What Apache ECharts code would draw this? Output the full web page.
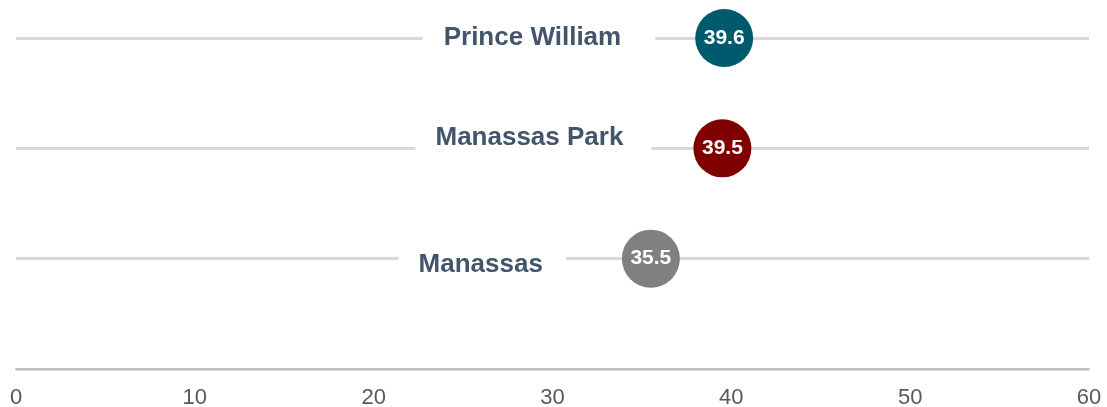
<!DOCTYPE html>
<html>
<head>
<meta charset="utf-8">
<script src="https://cdn.jsdelivr.net/npm/echarts@6/dist/echarts.min.js"></script>
<style>
  html, body { margin: 0; padding: 0; background: #ffffff; }
  #chart { width: 1107px; height: 407px; }
</style>
</head>
<body>
<div id="chart"></div>
<script>
// data
const places = ['Prince William', 'Manassas Park', 'Manassas'];
const values = [39.6, 39.5, 35.5];
const rows = [3, 2, 1];
const dotColors = ['#005a6e', '#800000', '#808080'];
const xTicks = [0, 10, 20, 30, 40, 50, 60];

// per-row label nudges (the reference labels sit a bit irregularly)
const labelDistance = [40, 42, 56];
const labelOffsetY = [0, -11, 6];
const labelPadRight = [34, 28, 23];
const labelPadLeft = [21, 20, 20];

const chart = echarts.init(document.getElementById('chart'));

const dotData = values.map((v, i) => ({
    value: [v, rows[i]],
    itemStyle: { color: dotColors[i] }
}));

const nameData = values.map((v, i) => ({
    value: [v, rows[i]],
    name: places[i],
    label: {
        distance: labelDistance[i],
        offset: [0, labelOffsetY[i]],
        padding: [6, labelPadRight[i], 6, labelPadLeft[i]]
    }
}));

const option = {
    animation: false,
    grid: { left: 16, right: 18, top: 38, bottom: 38, outerBoundsMode: 'none' },
    xAxis: {
        type: 'value',
        min: xTicks[0],
        max: xTicks[xTicks.length - 1],
        interval: 10,
        axisLine: { show: true, lineStyle: { color: '#bfbfbf', width: 2 } },
        axisTick: { show: false },
        splitLine: { show: false },
        axisLabel: {
            color: '#595959',
            fontFamily: 'Liberation Sans, Arial, sans-serif',
            fontSize: 22,
            margin: 18
        }
    },
    yAxis: {
        type: 'value',
        min: 0,
        max: 3,
        interval: 1,
        axisLine: { show: false },
        axisTick: { show: false },
        axisLabel: { show: false },
        splitLine: { show: true, lineStyle: { color: '#d9d9d9', width: 3 } }
    },
    series: [
        {
            // place names with a white box that breaks the row line
            type: 'scatter',
            data: nameData,
            symbolSize: 58,
            itemStyle: { color: 'rgba(0,0,0,0)', opacity: 1 },
            silent: true,
            z: 3,
            emphasis: { disabled: true },
            label: {
                show: true,
                position: 'left',
                formatter: p => p.name,
                color: '#44546a',
                fontFamily: 'Liberation Sans, Arial, sans-serif',
                fontWeight: 'bold',
                fontSize: 26,
                backgroundColor: '#ffffff'
            }
        },
        {
            type: 'scatter',
            data: dotData,
            symbolSize: 58,
            z: 4,
            itemStyle: { opacity: 1 },
            emphasis: { disabled: true },
            label: {
                show: true,
                position: 'inside',
                formatter: p => p.value[0].toFixed(1),
                color: '#ffffff',
                fontFamily: 'Liberation Sans, Arial, sans-serif',
                fontWeight: 'bold',
                fontSize: 21
            }
        }
    ]
};

chart.setOption(option);
window.addEventListener('resize', () => chart.resize());
</script>
</body>
</html>
